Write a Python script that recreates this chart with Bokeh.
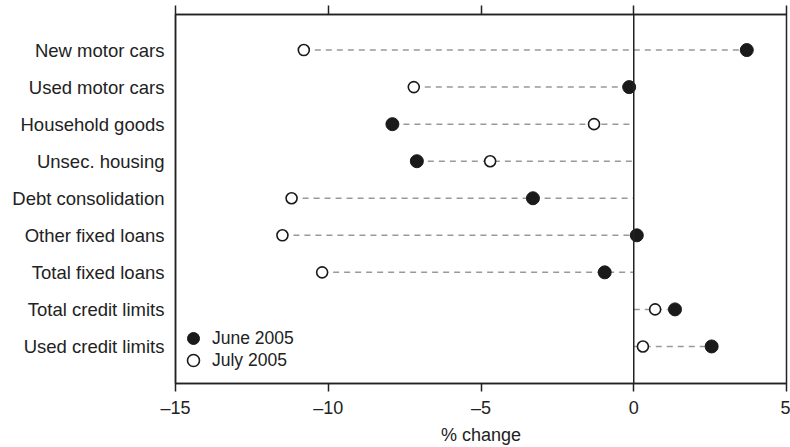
from bokeh.plotting import figure
from bokeh.models import Range1d, FixedTicker, LinearAxis, Span, Legend, LegendItem, ColumnDataSource
from bokeh.embed import file_html
from bokeh.resources import INLINE

categories = ["New motor cars", "Used motor cars", "Household goods", "Unsec. housing",
              "Debt consolidation", "Other fixed loans", "Total fixed loans",
              "Total credit limits", "Used credit limits"]
june_2005 = [3.7, -0.15, -7.9, -7.1, -3.3, 0.1, -0.95, 1.35, 2.55]
july_2005 = [-10.8, -7.2, -1.3, -4.7, -11.2, -11.5, -10.2, 0.7, 0.3]
x_ticks = [-15, -10, -5, 0, 5]
x_tick_labels = ["\u201315", "\u201310", "\u20135", "0", "5"]

FONT = "Liberation Sans"
TXT = "#222222"

ypos = list(range(len(categories)))
lo = [min(a, b, 0) for a, b in zip(june_2005, july_2005)]
hi = [max(a, b, 0) for a, b in zip(june_2005, july_2005)]
src = ColumnDataSource(dict(y=ypos, june=june_2005, july=july_2005, lo=lo, hi=hi))

p = figure(width=790, height=447, output_backend="svg", toolbar_location=None,
           x_range=Range1d(-15, 5), y_range=Range1d(9.0, -0.96),
           x_axis_location=None, y_axis_location=None,
           min_border_left=175, min_border_right=4, min_border_top=14, min_border_bottom=59)
p.grid.visible = False
p.outline_line_color = TXT
p.outline_line_width = 1.5
p.background_fill_color = "white"
p.border_fill_color = "white"

# bottom axis
xb = LinearAxis(ticker=FixedTicker(ticks=x_ticks),
                major_label_overrides={t: l for t, l in zip(x_ticks, x_tick_labels)},
                axis_label="% change")
xb.axis_line_color = TXT
xb.axis_line_width = 1.5
xb.major_tick_line_color = TXT
xb.major_tick_line_width = 1.5
xb.major_tick_out = 8
xb.major_tick_in = 0
xb.minor_tick_line_color = None
xb.major_label_text_font = FONT
xb.major_label_text_font_size = "18px"
xb.major_label_text_color = TXT
xb.major_label_standoff = 6
xb.axis_label_text_font = FONT
xb.axis_label_text_font_size = "18px"
xb.axis_label_text_font_style = "normal"
xb.axis_label_text_color = TXT
xb.axis_label_standoff = 4
p.add_layout(xb, "below")

# top axis (ticks only)
xt = LinearAxis(ticker=FixedTicker(ticks=x_ticks),
                major_label_overrides={t: "" for t in x_ticks})
xt.axis_line_color = TXT
xt.axis_line_width = 1.5
xt.major_tick_line_color = TXT
xt.major_tick_line_width = 1.5
xt.major_tick_out = 9
xt.major_tick_in = 0
xt.minor_tick_line_color = None
xt.major_label_text_font_size = "0px"
xt.major_label_standoff = 0
p.add_layout(xt, "above")

# left axis (category labels)
yl = LinearAxis(ticker=FixedTicker(ticks=ypos),
                major_label_overrides={i: c for i, c in zip(ypos, categories)})
yl.axis_line_color = TXT
yl.axis_line_width = 1.5
yl.major_tick_line_color = None
yl.minor_tick_line_color = None
yl.major_label_text_font = FONT
yl.major_label_text_font_size = "18.5px"
yl.major_label_text_color = TXT
yl.major_label_standoff = 5
p.add_layout(yl, "left")

p.add_layout(Span(location=0, dimension="height", line_color=TXT, line_width=1.5))

p.segment(x0="lo", x1="hi", y0="y", y1="y", source=src, line_color="#999999",
          line_width=1.5, line_dash="6 5")
r_june = p.scatter(x="june", y="y", source=src, size=13, fill_color="#1a1a1a", line_color="#1a1a1a", line_width=1)
r_july = p.scatter(x="july", y="y", source=src, size=11, fill_color="white", line_color="#1a1a1a", line_width=1.6)


def make_legend(label, renderer, loc):
    lg = Legend(items=[LegendItem(label=label, renderers=[renderer])], location=loc)
    lg.border_line_color = None
    lg.background_fill_alpha = 0
    lg.margin = 0
    lg.padding = 0
    lg.spacing = 0
    lg.glyph_width = 30
    lg.glyph_height = 30
    lg.label_height = 22
    lg.label_standoff = 4
    lg.label_text_font = FONT
    lg.label_text_font_size = "17.5px"
    lg.label_text_color = TXT
    return lg


p.add_layout(make_legend("June 2005", r_june, (3, 30)), "center")
p.add_layout(make_legend("July 2005", r_july, (3, 8)), "center")

open("out.html", "w").write(file_html(p, INLINE))
